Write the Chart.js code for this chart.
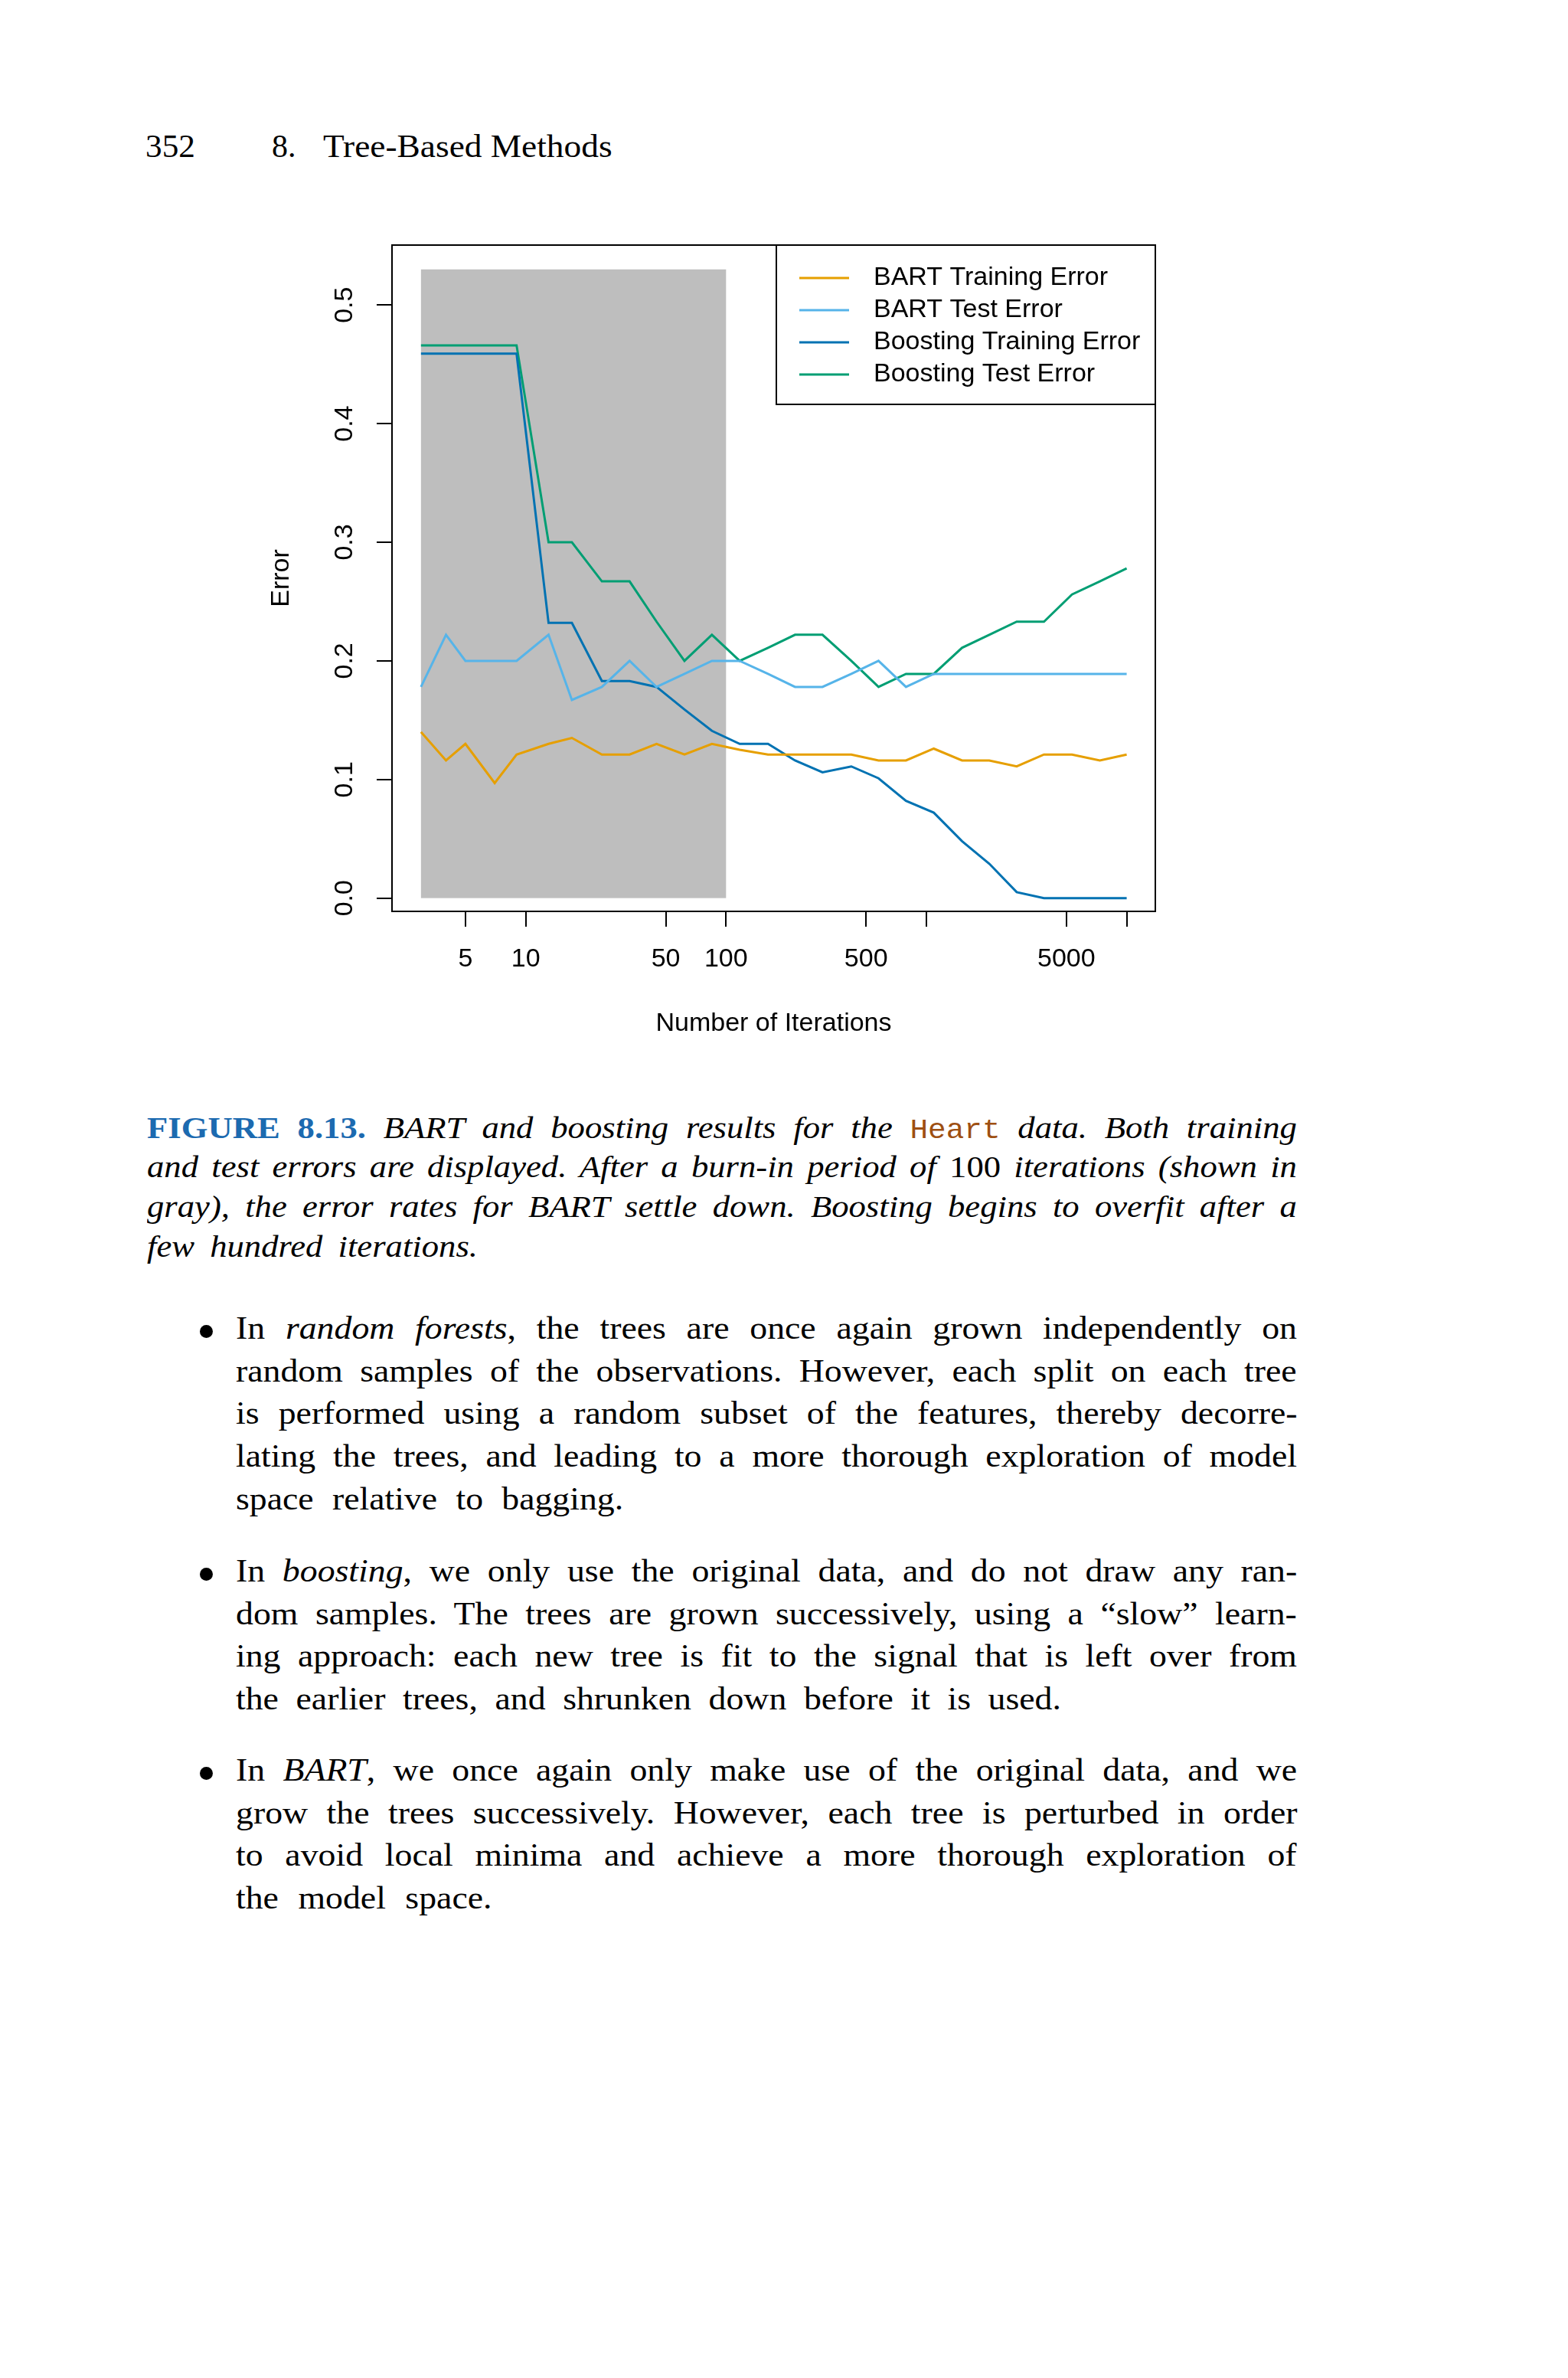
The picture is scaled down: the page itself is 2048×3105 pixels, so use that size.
<!DOCTYPE html>
<html>
<head>
<meta charset="utf-8">
<script src="https://cdn.jsdelivr.net/npm/chart.js@4.4.0/dist/chart.umd.min.js"></script>
<style>
  html, body { margin: 0; padding: 0; background: #fff; }
  #page { position: relative; width: 2048px; height: 3105px; background: #fff; overflow: hidden;
          font-family: "Liberation Serif", "Times New Roman", serif; color: #000; }
  #chartBox { position: absolute; left: 300px; top: 300px; width: 1260px; height: 1100px; }
  .ln { position: absolute; white-space: nowrap; }
  .ln span.inner { display: inline-block; white-space: nowrap; transform-origin: 0 50%; }
  .cap { font-style: italic; }
  .fig { font-style: normal; font-weight: bold; color: #1c6ab0; }
  .code { font-style: normal; font-family: "Liberation Mono", "DejaVu Sans Mono", monospace; color: #9e4f12; font-size: 0.88em; }
  .up { font-style: normal; }
  .dot { position: absolute; width: 17px; height: 17px; border-radius: 50%; background: #000; }
</style>
</head>
<body>
<div id="page">
  <div id="chartBox"><canvas id="myChart" width="1260" height="1100"></canvas></div>
</div>
<script>
// ---- data ----
const iterations = [3, 4, 5, 7, 9, 13, 17, 24, 33, 45, 62, 85, 117, 162, 221, 303, 422, 577, 791, 1089, 1507, 2061, 2825, 3864, 5333, 7345, 10000];

const bartTrain = [0.140, 0.116, 0.130, 0.097, 0.121, 0.130, 0.135, 0.121, 0.121, 0.130, 0.121, 0.130, 0.125, 0.121,
                   0.121, 0.121, 0.121, 0.116, 0.116, 0.126, 0.116, 0.116, 0.111, 0.121, 0.121, 0.116, 0.121];
const bartTest = [0.178, 0.222, 0.200, 0.200, 0.200, 0.222, 0.167, 0.178, 0.200, 0.178, 0.189, 0.200, 0.200, 0.189,
                  0.178, 0.178, 0.189, 0.200, 0.178, 0.189, 0.189, 0.189, 0.189, 0.189, 0.189, 0.189, 0.189];
const boostTrain = [0.459, 0.459, 0.459, 0.459, 0.459, 0.232, 0.232, 0.183, 0.183, 0.178, 0.159, 0.141, 0.130, 0.130,
                    0.116, 0.106, 0.111, 0.101, 0.082, 0.072, 0.048, 0.029, 0.005, 0.000, 0.000, 0.000, 0.000];
const boostTest = [0.466, 0.466, 0.466, 0.466, 0.466, 0.300, 0.300, 0.267, 0.267, 0.233, 0.200, 0.222, 0.200, 0.211,
                   0.222, 0.222, 0.200, 0.178, 0.189, 0.189, 0.211, 0.222, 0.233, 0.233, 0.256, 0.267, 0.278];

const seriesNames = ['BART Training Error', 'BART Test Error', 'Boosting Training Error', 'Boosting Test Error'];
const seriesColors = ['#E69F00', '#56B4E9', '#0072B2', '#009E73'];

const xTicks = [5, 10, 50, 100, 500, 1000, 5000, 10000];
const xTickLabels = ['5', '10', '50', '100', '500', '', '5000', ''];
const yTicks = [0, 0.1, 0.2, 0.3, 0.4, 0.5];

// burn-in period shown in gray
const burnIn = [3, 100];
const burnInTop = 0.53;

// ---- page text ----
const page = document.getElementById('page');

function addLine(html, left, width, baseline, size, extraClass) {
  const d = document.createElement('div');
  d.className = 'ln' + (extraClass ? ' ' + extraClass : '');
  d.style.left = left + 'px';
  d.style.width = width + 'px';
  d.style.fontSize = size + 'px';
  d.style.lineHeight = size + 'px';
  // baseline offset for Liberation Serif with line-height = font-size
  d.style.top = (baseline - 0.8375 * size) + 'px';
  d.innerHTML = '<span class="inner">' + html + '</span>';
  page.appendChild(d);
  return d.querySelector('.inner');
}

// justify every line but the last. Computer Modern runs wider than Times,
// so widen the glyphs a little first and put the rest into the spaces
function addParagraph(lines, left, width, firstBaseline, step, size, extraClass) {
  const inners = lines.map((t, i) => addLine(t, left, width, firstBaseline + i * step, size, extraClass));
  let kSum = 0, wsSum = 0, cnt = 0;
  inners.forEach((inner, i) => {
    if (i === inners.length - 1) return;
    const natural = inner.offsetWidth;
    const spaces = (inner.textContent.match(/ /g) || []).length;
    const k = Math.max(1, Math.min(1.09, width / (natural + spaces * 3)));
    const ws = spaces > 0 ? (width / k - natural) / spaces : 0;
    inner.style.wordSpacing = ws + 'px';
    inner.style.transform = 'scaleX(' + k + ')';
    kSum += k; wsSum += ws; cnt++;
  });
  const last = inners[inners.length - 1];
  if (cnt > 0) {
    last.style.wordSpacing = Math.max(0, wsSum / cnt) + 'px';
    last.style.transform = 'scaleX(' + (kSum / cnt) + ')';
  }
}

const bodySize = 42;
const capSize = 41;

addLine('352', 190, 100, 205, 42).style.transform = 'scaleX(1.03)';
addLine('8.', 355, 60, 205, 42);
addLine('Tree-Based Methods', 422, 500, 205, 42).style.transform = 'scaleX(1.08)';

addParagraph([
  '<span class="fig">FIGURE 8.13.</span> BART and boosting results for the <span class="code">Heart</span> data. Both training',
  'and test errors are displayed. After a burn-in period of <span class="up">100</span> iterations (shown in',
  'gray), the error rates for BART settle down. Boosting begins to overfit after a',
  'few hundred iterations.'
], 192, 1502, 1486, 51.7, capSize, 'cap');

const bullets = [
  { base: 1748, lines: [
    'In <i>random forests</i>, the trees are once again grown independently on',
    'random samples of the observations. However, each split on each tree',
    'is performed using a random subset of the features, thereby decorre-',
    'lating the trees, and leading to a more thorough exploration of model',
    'space relative to bagging.'] },
  { base: 2065, lines: [
    'In <i>boosting</i>, we only use the original data, and do not draw any ran-',
    'dom samples. The trees are grown successively, using a \u201cslow\u201d learn-',
    'ing approach: each new tree is fit to the signal that is left over from',
    'the earlier trees, and shrunken down before it is used.'] },
  { base: 2325, lines: [
    'In <i>BART</i>, we once again only make use of the original data, and we',
    'grow the trees successively. However, each tree is perturbed in order',
    'to avoid local minima and achieve a more thorough exploration of',
    'the model space.'] }
];
bullets.forEach(b => {
  const dot = document.createElement('div');
  dot.className = 'dot';
  dot.style.left = (269 - 8.5) + 'px';
  dot.style.top = (b.base - 10 - 8.5) + 'px';
  page.appendChild(dot);
  addParagraph(b.lines, 308, 1386, b.base, 55.8, bodySize);
});

// ---- chart ----
Chart.defaults.font.family = '"Liberation Sans", Arial, Helvetica, sans-serif';
Chart.defaults.font.size = 34;
Chart.defaults.color = '#000';

const burnInPlugin = {
  id: 'burnIn',
  beforeDatasetsDraw(chart) {
    const { ctx, scales: { x, y } } = chart;
    const x1 = x.getPixelForValue(burnIn[0]);
    const x2 = x.getPixelForValue(burnIn[1]);
    const y1 = y.getPixelForValue(burnInTop);
    const y2 = y.getPixelForValue(0);
    ctx.save();
    ctx.fillStyle = '#BEBEBE';
    ctx.fillRect(x1, y1, x2 - x1, y2 - y1);
    ctx.restore();
  }
};

const framePlugin = {
  id: 'frame',
  afterDraw(chart) {
    const { ctx, chartArea: a } = chart;
    ctx.save();
    ctx.strokeStyle = '#000';
    ctx.lineWidth = 2;
    ctx.strokeRect(a.left, a.top, a.right - a.left, a.bottom - a.top);

    // legend box in the top right corner
    const bw = 495, bh = 208;
    const bx = a.right - bw, by = a.top;
    ctx.fillStyle = '#fff';
    ctx.fillRect(bx, by, bw, bh);
    ctx.strokeRect(bx, by, bw, bh);
    ctx.font = '34px "Liberation Sans", Arial, sans-serif';
    ctx.textBaseline = 'middle';
    ctx.textAlign = 'left';
    chart.data.datasets.forEach((ds, i) => {
      const ry = by + 43 + i * 42;
      ctx.strokeStyle = ds.borderColor;
      ctx.lineWidth = 3;
      ctx.beginPath();
      ctx.moveTo(bx + 30, ry);
      ctx.lineTo(bx + 95, ry);
      ctx.stroke();
      ctx.fillStyle = '#000';
      ctx.fillText(ds.label, bx + 127, ry);
    });
    ctx.restore();
  }
};

const seriesValues = [bartTrain, bartTest, boostTrain, boostTest];
const datasets = seriesValues.map((vals, i) => ({
  label: seriesNames[i],
  data: iterations.map((it, j) => ({ x: it, y: vals[j] })),
  borderColor: seriesColors[i],
  backgroundColor: seriesColors[i],
  borderWidth: 3,
  pointRadius: 0,
  tension: 0,
  fill: false
}));

const ctx = document.getElementById('myChart').getContext('2d');
new Chart(ctx, {
  type: 'line',
  data: { datasets: datasets },
  options: {
    responsive: false,
    animation: false,
    devicePixelRatio: 1,
    layout: { padding: { left: 0, right: 51, top: 20, bottom: 0 } },
    plugins: {
      legend: { display: false },
      tooltip: { enabled: false }
    },
    scales: {
      x: {
        type: 'logarithmic',
        min: 2.15,
        max: 13900,
        afterBuildTicks: s => { s.ticks = xTicks.map(v => ({ value: v })); },
        afterFit: s => { s.height = 210; s.paddingLeft = 0; s.paddingRight = 0; },
        ticks: {
          autoSkip: false,
          maxRotation: 0,
          minRotation: 0,
          padding: 22,
          callback: (v, i) => xTickLabels[i]
        },
        grid: { drawOnChartArea: false, drawTicks: true, tickLength: 20, color: '#000', lineWidth: 2 },
        border: { display: false },
        title: { display: true, text: 'Number of Iterations', font: { size: 34 }, padding: { top: 0, bottom: 43 } }
      },
      y: {
        type: 'linear',
        min: -0.0112,
        max: 0.5505,
        afterBuildTicks: s => { s.ticks = yTicks.map(v => ({ value: v })); },
        afterFit: s => { s.width = 212; s.paddingTop = 0; s.paddingBottom = 0; },
        ticks: {
          minRotation: 90,
          maxRotation: 90,
          crossAlign: 'center',
          padding: 18,
          callback: v => v.toFixed(1)
        },
        grid: { drawOnChartArea: false, drawTicks: true, tickLength: 20, color: '#000', lineWidth: 2 },
        border: { display: false },
        title: { display: true, text: 'Error', font: { size: 34 }, padding: { top: 47, bottom: 0 } }
      }
    }
  },
  plugins: [burnInPlugin, framePlugin]
});
</script>
</body>
</html>
